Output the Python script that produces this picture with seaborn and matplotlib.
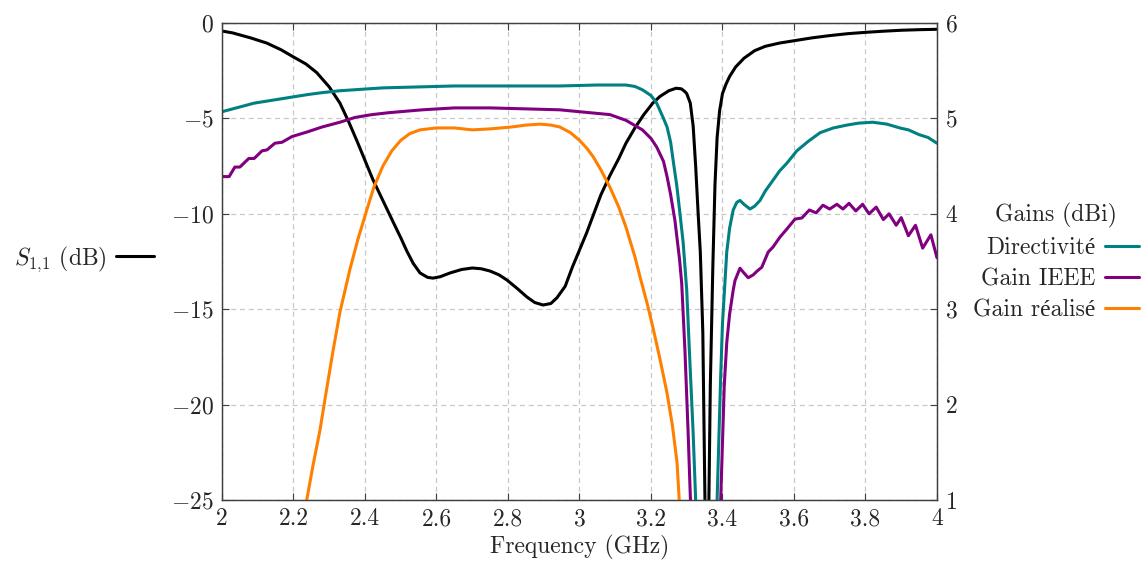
import numpy as np
import pandas as pd
import matplotlib
matplotlib.use("Agg")
import matplotlib.pyplot as plt
import seaborn as sns
from matplotlib.lines import Line2D

# S11 (dB), left axis
s11_freq = [2.00, 2.03, 2.08, 2.125, 2.165, 2.20, 2.235, 2.265, 2.30, 2.33, 2.355, 2.378, 2.40, 2.422,
            2.45, 2.478, 2.50, 2.517, 2.535, 2.554, 2.575, 2.59, 2.61, 2.638, 2.67, 2.70, 2.725, 2.75,
            2.775, 2.797, 2.825, 2.853, 2.875, 2.898, 2.92, 2.937, 2.96, 2.98, 3.00, 3.02, 3.04, 3.06,
            3.085, 3.11, 3.13, 3.155, 3.18, 3.205, 3.225, 3.25, 3.27, 3.285, 3.295, 3.30, 3.31, 3.318,
            3.325, 3.332, 3.338, 3.345, 3.351, 3.355, 3.359, 3.362, 3.366, 3.373, 3.379, 3.385, 3.392,
            3.40, 3.41, 3.42, 3.437, 3.46, 3.49, 3.52, 3.56, 3.60, 3.65, 3.70, 3.75, 3.80, 3.85, 3.90,
            3.95, 4.00]
s11_db = [-0.42, -0.52, -0.78, -1.05, -1.4, -1.78, -2.15, -2.6, -3.35, -4.2, -5.2, -6.2, -7.2, -8.2,
          -9.3, -10.4, -11.25, -11.95, -12.6, -13.1, -13.33, -13.37, -13.3, -13.1, -12.92, -12.84, -12.88, -13.0,
          -13.2, -13.47, -13.9, -14.36, -14.65, -14.78, -14.7, -14.4, -13.8, -12.8, -11.9, -11.0, -10.0, -9.0,
          -8.0, -7.1, -6.3, -5.5, -4.8, -4.2, -3.85, -3.55, -3.42, -3.45, -3.6, -3.7, -4.2, -5.4,
          -7.5, -10.0, -12.0, -16.2, -25.0, -38.0, -30.0, -25.0, -19.0, -12.8, -8.5, -6.0, -4.6,
          -3.7, -3.2, -2.8, -2.3, -1.85, -1.45, -1.22, -1.05, -0.93, -0.78, -0.66, -0.56, -0.49, -0.43, -0.38,
          -0.35, -0.33]

# Directivity (dBi), right axis
dir_freq = [2.00, 2.05, 2.09, 2.14, 2.19, 2.24, 2.28, 2.33, 2.37, 2.45, 2.55, 2.65, 2.75, 2.85, 2.945,
            3.05, 3.13, 3.155, 3.176, 3.20, 3.216, 3.235, 3.245, 3.255, 3.262, 3.272, 3.28, 3.29, 3.30, 3.307,
            3.318, 3.33, 3.35, 3.37, 3.385, 3.395, 3.40, 3.412, 3.42, 3.43, 3.44, 3.449, 3.46, 3.477,
            3.49, 3.505, 3.52, 3.541, 3.56, 3.58, 3.608, 3.64, 3.673, 3.71, 3.748, 3.78, 3.82, 3.86,
            3.896, 3.92, 3.95, 3.975, 4.00]
dir_dbi = [5.07, 5.12, 5.16, 5.19, 5.22, 5.25, 5.27, 5.29, 5.30, 5.32, 5.33, 5.34, 5.34, 5.34, 5.34,
           5.35, 5.35, 5.335, 5.30, 5.24, 5.16, 5.0, 4.91, 4.75, 4.56, 4.3, 4.04, 3.7, 3.2, 2.6,
           1.7, 0.5, -1.0, 0.0, 1.0, 2.3, 2.85, 3.6, 3.85, 4.04, 4.12, 4.14, 4.10, 4.05,
           4.08, 4.14, 4.24, 4.35, 4.45, 4.53, 4.66, 4.76, 4.85, 4.90, 4.93, 4.95, 4.96, 4.94,
           4.90, 4.88, 4.83, 4.80, 4.74]

# Gain IEEE (dBi), right axis
ieee_freq = [2.00, 2.02, 2.036, 2.05, 2.075, 2.09, 2.112, 2.126, 2.148, 2.168, 2.196, 2.24, 2.28, 2.33,
             2.372, 2.42, 2.467, 2.56, 2.65, 2.75, 2.85, 2.945, 3.00, 3.085, 3.13, 3.176, 3.20, 3.216,
             3.235, 3.245, 3.255, 3.267, 3.28, 3.286, 3.295, 3.304, 3.315, 3.35, 3.38, 3.395, 3.405,
             3.412, 3.42, 3.43, 3.435, 3.449, 3.46, 3.472, 3.486, 3.497, 3.51, 3.528, 3.541, 3.561,
             3.58, 3.603, 3.622, 3.643, 3.662, 3.681, 3.70, 3.72, 3.737, 3.754, 3.773, 3.792, 3.81,
             3.83, 3.85, 3.866, 3.886, 3.90, 3.92, 3.94, 3.96, 3.983, 4.00]
ieee_dbi = [4.39, 4.39, 4.49, 4.49, 4.58, 4.58, 4.66, 4.67, 4.74, 4.75, 4.81, 4.86, 4.91, 4.96,
            5.01, 5.04, 5.06, 5.09, 5.11, 5.11, 5.10, 5.09, 5.07, 5.04, 4.98, 4.88, 4.79, 4.70,
            4.55, 4.39, 4.2, 3.93, 3.52, 3.27, 2.57, 1.7, 0.5, -1.0, 0.0, 1.0, 2.2,
            2.65, 2.95, 3.2, 3.3, 3.43, 3.38, 3.33, 3.36, 3.40, 3.44, 3.6, 3.65, 3.757,
            3.84, 3.945, 3.956, 4.04, 4.01, 4.09, 4.05, 4.10, 4.05, 4.11, 4.03, 4.10, 4.0,
            4.07, 3.94, 4.0, 3.88, 3.96, 3.77, 3.88, 3.64, 3.78, 3.54]

# Realised gain (dBi), right axis
real_freq = [2.20, 2.237, 2.255, 2.274, 2.29, 2.31, 2.33, 2.358, 2.38, 2.405, 2.425, 2.45, 2.475, 2.50,
             2.525, 2.554, 2.60, 2.65, 2.70, 2.75, 2.81, 2.85, 2.89, 2.92, 2.945, 2.975, 3.00, 3.02,
             3.038, 3.06, 3.085, 3.11, 3.13, 3.155, 3.17, 3.19, 3.206, 3.225, 3.245, 3.26, 3.273,
             3.279, 3.29]
real_dbi = [0.3, 1.0, 1.37, 1.73, 2.1, 2.55, 2.97, 3.42, 3.73, 4.04, 4.28, 4.50, 4.66, 4.77,
            4.84, 4.88, 4.90, 4.90, 4.88, 4.89, 4.91, 4.93, 4.94, 4.93, 4.91, 4.85, 4.77, 4.69,
            4.60, 4.46, 4.28, 4.07, 3.86, 3.55, 3.33, 3.05, 2.80, 2.48, 2.12, 1.78, 1.39,
            1.0, 0.3]

x_ticks = [2.0, 2.2, 2.4, 2.6, 2.8, 3.0, 3.2, 3.4, 3.6, 3.8, 4.0]
x_labels = ["2", "2.2", "2.4", "2.6", "2.8", "3", "3.2", "3.4", "3.6", "3.8", "4"]
left_ticks = [-25, -20, -15, -10, -5, 0]
left_labels = ["$-25$", "$-20$", "$-15$", "$-10$", "$-5$", "$0$"]
right_ticks = [1, 2, 3, 4, 5, 6]

TEAL = "#008080"
PURPLE = "#800080"
ORANGE = "#ff8000"

sns.set_style("white")
plt.rcParams["font.family"] = ["cmr10", "Liberation Serif"]
plt.rcParams["mathtext.fontset"] = "cm"
plt.rcParams["axes.formatter.use_mathtext"] = True
plt.rcParams["font.size"] = 17

fig, ax = plt.subplots(figsize=(11.46, 5.61), dpi=100)
fig.subplots_adjust(left=0.1937, right=0.8176, top=0.959, bottom=0.1087)
ax2 = ax.twinx()

lw = 2.2
sns.lineplot(x=s11_freq, y=s11_db, ax=ax, color="black", lw=lw, sort=False, estimator=None)
sns.lineplot(x=dir_freq, y=dir_dbi, ax=ax2, color=TEAL, lw=lw, sort=False, estimator=None)
sns.lineplot(x=ieee_freq, y=ieee_dbi, ax=ax2, color=PURPLE, lw=lw, sort=False, estimator=None)
sns.lineplot(x=real_freq, y=real_dbi, ax=ax2, color=ORANGE, lw=lw, sort=False, estimator=None)

ax.set_xlim(2, 4)
ax.set_ylim(-25, 0)
ax2.set_ylim(1, 6)

ax.set_xticks(x_ticks)
ax.set_xticklabels(x_labels)
ax.set_yticks(left_ticks)
ax.set_yticklabels(left_labels)
ax2.set_yticks(right_ticks)
ax2.set_yticklabels([f"${t}$" for t in right_ticks])

ax.grid(True, color="#c8c8c8", linestyle=(0, (4, 3)), linewidth=0.9)
ax2.grid(False)

for a in (ax, ax2):
    for s in a.spines.values():
        s.set_color("#404040")
        s.set_linewidth(0.9)
ax.tick_params(axis="both", direction="in", length=5, width=0.8, color="#404040",
               top=True, bottom=True, left=True, right=False, labelsize=17, pad=6)
ax2.tick_params(axis="y", direction="in", length=5, width=0.8, color="#404040", labelsize=17, pad=6)

ax.set_xlabel("Frequency (GHz)", fontsize=17, labelpad=3)
ax.set_ylabel("")
ax2.set_ylabel("")

# legend for S11, left of the axes
h_s11 = [Line2D([], [], color="black", lw=lw)]
leg1 = fig.legend(h_s11, ["$S_{1{,}1}$ (dB)"], loc="center right", bbox_to_anchor=(166 / 1146, 1 - 259 / 561),
                  frameon=False, markerfirst=False, handlelength=1.6, handletextpad=0.4, borderpad=0,
                  fontsize=17)

# legend for gains, right of the axes
h_g = [Line2D([], [], color=TEAL, lw=lw), Line2D([], [], color=PURPLE, lw=lw), Line2D([], [], color=ORANGE, lw=lw)]
leg2 = fig.legend(h_g, ["Directivité", "Gain IEEE", "Gain réalisé"], title="Gains (dBi)",
                  loc="center right", bbox_to_anchor=(1151 / 1146, 1 - 262 / 561), frameon=False,
                  markerfirst=False, handlelength=1.45, handletextpad=0.4, borderpad=0, labelspacing=0.38,
                  fontsize=17, title_fontsize=17)

fig.savefig("out.png", dpi=100)
